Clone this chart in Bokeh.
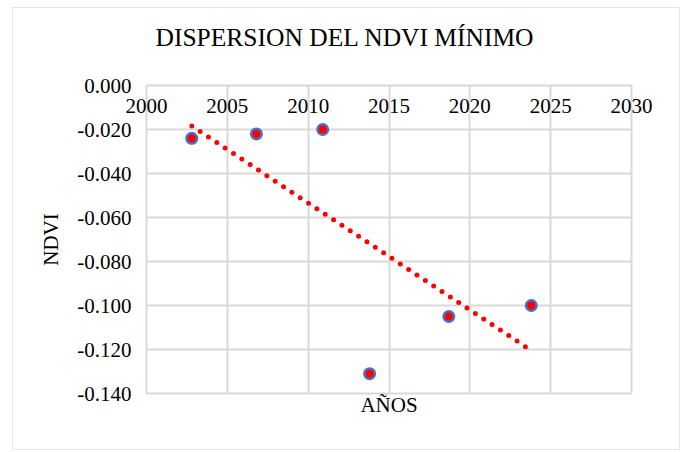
import numpy as np
from bokeh.plotting import figure
from bokeh.models import LinearAxis, FixedTicker, NumeralTickFormatter, Range1d
from bokeh.embed import file_html
from bokeh.resources import INLINE

# ---- data ----
years = [2002.8, 2006.8, 2010.9, 2013.8, 2018.7, 2023.8]
ndvi_min = [-0.024, -0.022, -0.020, -0.131, -0.105, -0.100]
x_ticks = [2000, 2005, 2010, 2015, 2020, 2025, 2030]
y_ticks = [0.0, -0.02, -0.04, -0.06, -0.08, -0.10, -0.12, -0.14]
title_text = "DISPERSION DEL NDVI MÍNIMO"
x_title = "AÑOS"
y_title = "NDVI"

# linear trendline (least squares, as in the spreadsheet)
slope, intercept = np.polyfit(years, ndvi_min, 1)
trend_x = [min(years), max(years)]
trend_y = [slope * x + intercept for x in trend_x]

FONT = "'Liberation Serif', 'Times New Roman', serif"
GRID = "#d9d9d9"

# trailing newline keeps an empty line between the title and the plot area
p = figure(width=668, height=443, output_backend="svg", toolbar_location=None,
           x_range=Range1d(x_ticks[0], x_ticks[-1]),
           y_range=Range1d(y_ticks[-1], y_ticks[0]),
           x_axis_location="above",
           min_border_left=133, min_border_right=50,
           min_border_top=77, min_border_bottom=58,
           title=title_text + "\n")

p.margin = (7, 0, 0, 12)
p.styles = {"border": "1px solid #e2e8f0"}
p.background_fill_color = "white"
p.border_fill_color = "white"
p.outline_line_color = GRID
p.outline_line_width = 2

# title
p.title.align = "left"
p.title.offset = 9
p.title.text_font = FONT
p.title.text_font_size = "25.5px"
p.title.text_font_style = "normal"
p.title.text_color = "#000000"
p.title.text_line_height = 1.0
p.title.standoff = 10

# top x axis (labels inside plot, below the 0 line)
xa = p.xaxis[0]
xa.ticker = FixedTicker(ticks=x_ticks)
xa.axis_line_color = None
xa.major_tick_out = 0
xa.major_tick_in = 0
xa.minor_tick_out = 0
xa.minor_tick_in = 0
xa.major_label_standoff = -27
xa.major_label_text_font = FONT
xa.major_label_text_font_size = "21px"
xa.major_label_text_color = "#000000"

# y axis
ya = p.yaxis[0]
ya.ticker = FixedTicker(ticks=y_ticks)
ya.formatter = NumeralTickFormatter(format="0.000")
ya.axis_line_color = None
ya.major_tick_out = 0
ya.major_tick_in = 0
ya.minor_tick_out = 0
ya.minor_tick_in = 0
ya.major_label_standoff = 15
ya.major_label_text_font = FONT
ya.major_label_text_font_size = "21px"
ya.major_label_text_color = "#000000"
ya.axis_label = y_title
ya.axis_label_standoff = 11
ya.axis_label_text_font = FONT
ya.axis_label_text_font_size = "21px"
ya.axis_label_text_font_style = "normal"
ya.axis_label_text_color = "#000000"

# bottom axis only for the title
xb = LinearAxis(ticker=FixedTicker(ticks=[]), axis_label=x_title)
xb.axis_line_color = None
xb.major_tick_out = 0
xb.minor_tick_out = 0
xb.major_label_text_font_size = "0px"
xb.axis_label_standoff = -1
xb.axis_label_text_font = FONT
xb.axis_label_text_font_size = "21px"
xb.axis_label_text_font_style = "normal"
xb.axis_label_text_color = "#000000"
p.add_layout(xb, "below")

# grids
p.xgrid.ticker = FixedTicker(ticks=x_ticks)
p.ygrid.ticker = FixedTicker(ticks=y_ticks)
p.grid.grid_line_color = GRID
p.grid.grid_line_width = 2

# trendline
p.line(trend_x, trend_y, line_color="#ff0000", line_width=5,
       line_dash="0 10", line_cap="round")

# points
p.scatter(years, ndvi_min, size=10.5, fill_color="#ff0000",
          line_color="#4472c4", line_width=2.5)

open("out.html", "w").write(file_html(p, INLINE))
